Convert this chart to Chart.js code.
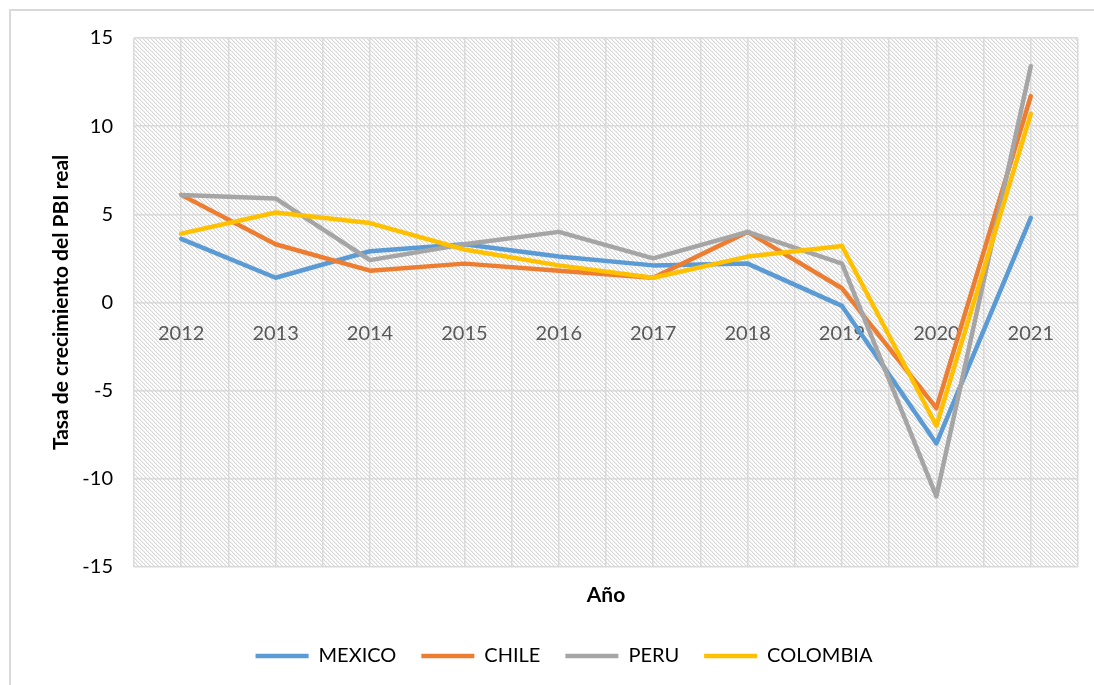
<!DOCTYPE html>
<html>
<head>
<meta charset="utf-8">
<script src="https://cdn.jsdelivr.net/npm/chart.js@4"></script>
<style>
  html, body { margin: 0; padding: 0; background: #fff; }
  #marco { position: absolute; left: 9px; top: 9px; width: 1100px; height: 700px; border: 2px solid #d9d9d9; box-sizing: border-box; }
  #caja { position: absolute; left: 0; top: 0; width: 1094px; height: 685px; }
</style>
</head>
<body>
<div id="marco"></div>
<div id="caja"><canvas id="lineChart" width="1094" height="685"></canvas></div>
<script>
const años = ["2012", "2013", "2014", "2015", "2016", "2017", "2018", "2019", "2020", "2021"];
const mexico = [3.6, 1.4, 2.9, 3.3, 2.6, 2.1, 2.2, -0.2, -8.0, 4.8];
const chile = [6.1, 3.3, 1.8, 2.2, 1.8, 1.4, 4.0, 0.8, -6.0, 11.7];
const peru = [6.1, 5.9, 2.4, 3.3, 4.0, 2.5, 4.0, 2.2, -11.0, 13.4];
const colombia = [3.9, 5.1, 4.5, 3.0, 2.1, 1.4, 2.6, 3.2, -7.0, 10.7];
const ticksY = [-15, -10, -5, 0, 5, 10, 15];

const fuente = "Lato, 'Open Sans', sans-serif";

// fondo rayado del area de trazado (como el relleno de Excel)
function patronRayado(ctx) {
	const c = document.createElement("canvas");
	c.width = 4; c.height = 4;
	const p = c.getContext("2d");
	p.fillStyle = "#fff";
	p.fillRect(0, 0, 4, 4);
	for (let i = 0; i < 4; i++) {
		p.fillStyle = "#d6d6d6";
		p.fillRect(i, i, 1, 1);
		p.fillStyle = (i % 2) ? "#e8e8e8" : "#f4f4f4";
		p.fillRect((i + 1) % 4, i, 1, 1);
	}
	return ctx.createPattern(c, "repeat");
}

const fondo = {
	id: "fondo",
	beforeDraw(chart) {
		const { ctx, chartArea: a } = chart;
		ctx.save();
		ctx.fillStyle = patronRayado(ctx);
		ctx.fillRect(a.left, a.top, a.right - a.left, a.bottom - a.top);
		ctx.restore();
	}
};

// la leyenda de Excel no queda centrada: se corre un poco a la derecha
const correrLeyenda = {
	id: "correrLeyenda",
	afterLayout(chart) {
		if (chart.legend) {
			chart.legend.left += 25;
			chart.legend.right += 25;
		}
	}
};

function serie(nombre, datos, color, orden) {
	return {
		label: nombre,
		data: datos,
		borderColor: color,
		backgroundColor: color,
		borderWidth: 4.5,
		borderCapStyle: "round",
		borderJoinStyle: "round",
		pointRadius: 0,
		pointStyle: "line",
		tension: 0,
		xAxisID: "x",
		order: orden
	};
}

const ctx = document.getElementById("lineChart").getContext("2d");
new Chart(ctx, {
	type: "line",
	data: {
		labels: años,
		datasets: [
			serie("MEXICO", mexico, "#5B9BD5", 3),
			serie("CHILE", chile, "#ED7D31", 2),
			serie("PERU", peru, "#A5A5A5", 1),
			serie("COLOMBIA", colombia, "#FFC000", 0)
		]
	},
	options: {
		responsive: false,
		animation: false,
		layout: { padding: { top: 38, right: 16, left: 0, bottom: 9 } },
		scales: {
			x: {
				type: "category",
				position: { y: 0 },
				offset: true,
				grid: { display: false, drawTicks: false },
				border: { display: false },
				ticks: { color: "#595959", font: { family: fuente, size: 20 }, padding: 19, maxRotation: 0 }
			},
			x2: {
				type: "linear",
				position: "bottom",
				min: -0.5,
				max: 9.5,
				grid: { color: "#d9d9d9", lineWidth: 1.5, drawTicks: false },
				border: { display: false },
				ticks: { display: false, stepSize: 0.5 },
				title: {
					display: true,
					text: "Año",
					color: "#000",
					font: { family: fuente, size: 21, weight: "bold" },
					padding: { top: 16, bottom: 13 }
				}
			},
			y: {
				min: -15,
				max: 15,
				afterBuildTicks: (scale) => { scale.ticks = ticksY.map(v => ({ value: v })); },
				afterFit: (scale) => { scale.width = 134; },
				grid: { color: "#d9d9d9", lineWidth: 1.5, drawTicks: false },
				border: { display: false },
				ticks: { color: "#000", font: { family: fuente, size: 20 }, padding: 21 },
				title: {
					display: true,
					text: "Tasa de crecimiento del PBI real",
					color: "#000",
					font: { family: fuente, size: 21, weight: "bold" },
					padding: { top: 49, bottom: 0 }
				}
			}
		},
		plugins: {
			legend: {
				position: "bottom",
				labels: {
					usePointStyle: true,
					pointStyleWidth: 53,
					boxHeight: 20,
					color: "#000",
					font: { family: fuente, size: 20 },
					padding: 25,
					sort: (a, b) => a.datasetIndex - b.datasetIndex
				}
			},
			tooltip: { enabled: false }
		}
	},
	plugins: [fondo, correrLeyenda]
});
</script>
</body>
</html>
